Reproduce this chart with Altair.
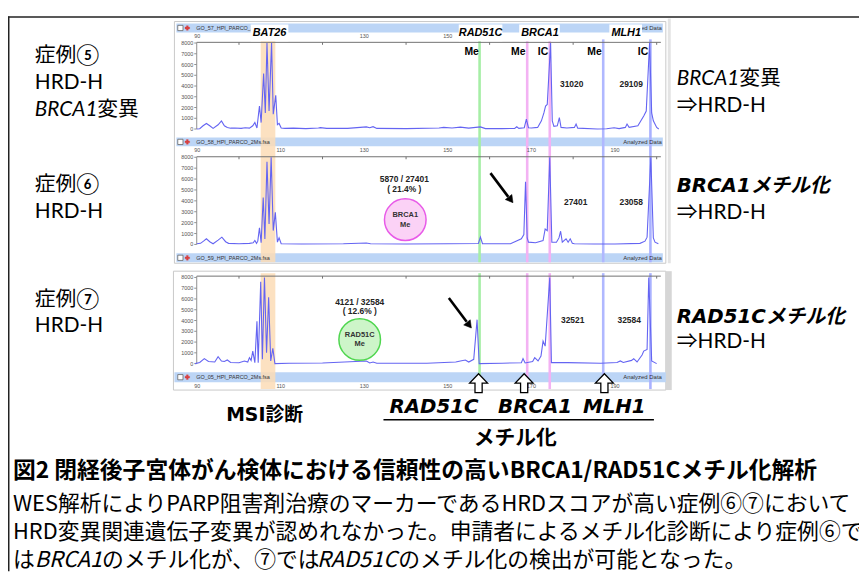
import altair as alt
import pandas as pd

# ---------------- data (bp, RFU) ----------------
case5_trace = [(89.9,0),(90.6,30),(91.4,300),(92.2,520),(93.0,300),(93.8,60),(95.0,395),(95.8,760),(96.5,300),
    (97.2,150),(98.0,80),(99.0,100),(100.5,60),(101.5,120),(102.5,80),(103.3,300),(103.8,610),(104.3,100),
    (104.9,2130),(105.3,600),(105.9,5170),(106.3,1500),(106.7,8000),(107.2,1670),(107.8,8000),(108.2,1370),
    (108.8,3130),(109.2,400),(109.6,520),(110.1,100),(111.0,60),(113.0,80),(116.0,40),(119.0,100),(119.5,130),
    (121.0,60),(126.0,60),(129.0,150),(130.5,200),(131.3,120),(132.1,220),(133.0,60),(140.0,40),(147.9,100),
    (149.0,150),(151.0,100),(153.0,180),(155.0,80),(157.8,200),(159.0,40),(163.0,40),(166.0,60),(166.5,210),
    (167.0,60),(168.3,120),(168.8,910),(169.3,120),(170.0,100),(171.5,150),(172.4,760),(173.0,1500),(173.4,2130),
    (173.8,2280),(174.6,8000),(175.0,760),(175.4,250),(176.2,300),(176.7,1060),(177.1,150),(178.5,100),(180.3,150),
    (180.7,460),(181.1,80),(185.8,0),(188.0,30),(189.8,120),(191.0,40),(192.5,150),(192.9,460),(193.4,150),
    (195.5,300),(196.9,1220),(197.5,1670),(198.3,8000),(198.8,1500),(199.2,760),(200.0,150),(200.5,0)]

case6_trace = [(89.9,60),(90.8,100),(91.5,300),(92.2,515),(93.0,250),(93.8,60),(95.0,400),(95.9,670),(96.8,250),
    (97.5,100),(100.0,60),(102.5,100),(103.4,150),(103.8,360),(104.2,100),(104.5,300),(104.9,1515),(105.3,150),
    (105.8,4300),(106.2,500),(106.7,7575),(107.2,1880),(107.7,8000),(108.2,1270),(108.7,2940),(109.2,210),
    (109.6,600),(110.1,60),(115.0,40),(125.0,60),(130.5,130),(131.5,60),(140.0,40),(150.0,60),(157.3,80),
    (157.8,670),(158.3,60),(165.0,60),(167.6,515),(168.2,900),(168.6,5760),(169.0,600),(169.3,210),(171.0,150),
    (172.8,360),(173.3,1420),(173.8,1270),(174.4,8000),(174.9,210),(176.0,200),(176.6,600),(177.0,1210),
    (177.4,210),(178.3,515),(178.8,200),(179.3,515),(179.8,100),(180.3,60),(185.0,40),(190.0,40),(196.0,100),
    (197.2,300),(197.7,670),(198.6,8000),(199.2,600),(199.6,210),(200.4,60)]

case7_trace = [(89.5,0),(90.6,100),(91.7,460),(92.7,200),(94.2,150),(95.0,644),(95.8,245),(96.5,200),(97.2,337),
    (98.0,100),(100.0,80),(101.3,245),(102.1,150),(102.5,552),(102.9,300),(103.3,1165),(103.8,92),(104.3,3920),
    (104.6,92),(105.2,7600),(105.6,400),(106.1,8000),(106.6,1010),(107.1,6160),(107.6,245),(108.1,1410),
    (108.6,0),(112.0,40),(120.0,60),(130.5,245),(131.3,60),(132.1,153),(133.0,40),(145.0,40),(151.9,153),
    (153.0,245),(154.2,337),(155.0,150),(156.2,400),(157.0,4080),(157.5,0),(163.0,40),(167.6,80),(168.0,460),
    (168.5,60),(170.3,200),(170.8,552),(171.6,245),(172.3,700),(172.8,2085),(173.3,1620),(174.4,8000),
    (174.8,92),(178.7,92),(186.6,31),(190.5,100),(191.3,245),(192.0,100),(194.0,300),(194.5,460),(195.3,153),
    (196.5,800),(196.9,1165),(197.7,1320),(198.1,8000),(198.8,245),(200.0,0)]

# marker windows (bp)
bat26_range = [105.2, 108.7]
marker_names = ["RAD51C Me", "BRCA1 Me", "BRCA1 IC", "MLH1 Me", "MLH1 IC"]
marker_bp = [157.6, 169.0, 174.4, 187.2, 198.5]
marker_colors = ["#a6eea6", "#f3b2f3", "#f3b2f3", "#b0b8ff", "#a9b1ff"]

# axes
y_ticks = [0, 1000, 2000, 3000, 4000, 5000, 6000, 7000, 8000]
x_label_ticks = [90, 110, 130, 150, 170, 190]
x_label_ticks_top = [90, 130, 150]          # the others are hidden under the gene labels
x_minor_ticks = [100, 120, 140, 160, 180, 200]

# annotation values
case5_peaks = ["31020", "29109"]
case6_peaks = ["27401", "23058"]
case7_peaks = ["32521", "32584"]
case6_ratio = ["5870 / 27401", "( 21.4% )"]
case7_ratio = ["4121 / 32584", "( 12.6% )"]
file_names = ["GO_57_HPI_PARCO_2Ms.fsa", "GO_58_HPI_PARCO_2Ms.fsa", "GO_59_HPI_PARCO_2Ms.fsa", "GO_05_HPI_PARCO_2Ms.fsa"]

title = "図2 閉経後子宮体がん検体における信頼性の高いBRCA1/RAD51Cメチル化解析"
body2 = "WES解析によりPARP阻害剤治療のマーカーであるHRDスコアが高い症例⑥⑦において"
body3 = "HRD変異関連遺伝子変異が認めれなかった。申請者によるメチル化診断により症例⑥で"
body4 = ["は", "BRCA1", "のメチル化が、⑦では", "RAD51C", "のメチル化の検出が可能となった。"]

# ---------------- layout helpers ----------------
W, H = 859, 566
OX, OY = 8, 8
LATO = "Lato, 'Noto Sans CJK JP', sans-serif"
DEJA = "'DejaVu Sans', 'Noto Sans CJK JP', sans-serif"
ARIAL = "'Liberation Sans', Arial, sans-serif"
CJK = "'Noto Sans CJK JP', sans-serif"

CX = alt.Scale(domain=[OX, OX + W], range=[0, W], nice=False, zero=False)
CY = alt.Scale(domain=[OY, OY + H], range=[0, H], nice=False, zero=False)


def cx(f="x"):
    return alt.X(f + ":Q", scale=CX, axis=None)


def cy(f="y"):
    return alt.Y(f + ":Q", scale=CY, axis=None)


def texts(rows, size, font, weight="normal", style="normal", color="#000", align="left"):
    df = pd.DataFrame(rows, columns=["t", "x", "y"])
    return alt.Chart(df).mark_text(font=font, fontSize=size, fontWeight=weight, fontStyle=style,
                                   color=color, align=align, baseline="middle").encode(
        x=cx(), y=cy(), text="t:N")


def rects(rows, fill, stroke=None, sw=1.0):
    df = pd.DataFrame(rows, columns=["x", "x2", "y", "y2"])
    kw = dict(fill=fill, opacity=1)
    if stroke:
        kw.update(stroke=stroke, strokeWidth=sw)
    return alt.Chart(df).mark_rect(**kw).encode(x=cx("x"), x2="x2:Q", y=cy("y"), y2="y2:Q")


def rules(rows, color, sw):
    df = pd.DataFrame(rows, columns=["x", "y", "x2", "y2"])
    return alt.Chart(df).mark_rule(color=color, strokeWidth=sw).encode(
        x=cx("x"), y=cy("y"), x2="x2:Q", y2="y2:Q")


def symbols(rows, shape, size, fill, stroke, sw, angle=0):
    df = pd.DataFrame(rows, columns=["x", "y"])
    return alt.Chart(df).mark_point(shape=shape, size=size, filled=True, fill=fill, stroke=stroke,
                                    strokeWidth=sw, angle=angle, opacity=1).encode(x=cx(), y=cy())


XS = alt.Scale(domain=[90, 201], range=[199 - OX, 667 - OX], nice=False, zero=False)


def panel(trace, zero_px, top_px, axis_px, label_px, labels, band_span=None):
    YS = alt.Scale(domain=[0, 8000], range=[zero_px - OY, top_px - OY], nice=False, zero=False)

    def X(f):
        return alt.X(f + ":Q", scale=XS, axis=None)

    def Y(f):
        return alt.Y(f + ":Q", scale=YS, axis=None)

    one = pd.DataFrame({"a": [0]})
    layers = []
    if band_span:
        ya, yb = band_span
        bat = pd.DataFrame({"lo": [bat26_range[0]], "hi": [bat26_range[1]]})
        layers.append(alt.Chart(bat).mark_rect(color="#fcdcb6", opacity=0.85).encode(
            x=X("lo"), x2="hi:Q", y=alt.value(ya - OY), y2=alt.value(yb - OY)))
        mk = pd.DataFrame({"bp": marker_bp, "c": marker_colors, "n": marker_names})
        layers.append(alt.Chart(mk).mark_rule(strokeWidth=2.6).encode(
            x=X("bp"), y=alt.value(ya - OY), y2=alt.value(yb - OY), color=alt.Color("c:N", scale=None)))
    # plot frame: top line with ticks, left axis
    layers.append(alt.Chart(one).mark_rule(color="#707070", strokeWidth=1).encode(
        x=alt.value(198.5 - OX), x2=alt.value(667 - OX), y=alt.value(axis_px - OY)))
    layers.append(alt.Chart(pd.DataFrame({"v": [0]})).mark_rule(color="#909090", strokeWidth=1).encode(
        x=alt.value(198.5 - OX), y=Y("v"), y2=alt.value(axis_px - OY)))
    yt = pd.DataFrame({"v": y_ticks})
    layers.append(alt.Chart(yt).mark_rule(color="#909090", strokeWidth=1).encode(
        x=alt.value(196 - OX), x2=alt.value(198.5 - OX), y=Y("v")))
    layers.append(alt.Chart(yt).mark_text(font=ARIAL, fontSize=5.5, color="#555", align="right",
                                          baseline="middle").encode(
        x=alt.value(195 - OX), y=Y("v"), text="v:Q"))
    xt = pd.DataFrame({"v": labels})
    layers.append(alt.Chart(xt).mark_text(font=ARIAL, fontSize=5.5, color="#555", baseline="middle").encode(
        x=X("v"), y=alt.value(label_px - OY), text="v:Q"))
    xm = pd.DataFrame({"v": x_minor_ticks})
    layers.append(alt.Chart(xm).mark_rule(color="#707070", strokeWidth=1).encode(
        x=X("v"), y=alt.value(axis_px - OY), y2=alt.value(axis_px - OY + 2.5)))
    df = pd.DataFrame(trace, columns=["bp", "rfu"])
    layers.append(alt.Chart(df).mark_line(color="#6464f2", strokeWidth=1.1).encode(
        x=X("bp"), y=Y("rfu"), order="bp:Q"))
    return alt.layer(*layers)


# ---------------- background canvas ----------------
ARROW = "M0,-1L0.95,0L0.38,0L0.38,1L-0.38,1L-0.38,0L-0.95,0Z"
bar_y = [25.5, 140.5, 257.5, 378]

bg = alt.layer(
    rects([(176, 672, 19, 263), (175, 672, 271, 391)], "white", "#c8c8c8", 1),
    rects([(672, 678, 271, 391)], "#d6d6d6"),
    rects([(674, 677, 16, 263)], "#e4e4e4"),
    rects([(178, 669, 21, 30), (178, 669, 136, 145), (178, 669, 253, 262), (176, 672, 373, 383)], "#bcd5f6"),
    rules([(8, 14.5, 867, 14.5), (8.75, 14, 8.75, 574)], "#222", 1.5),
)

p1 = panel(case5_trace, 127.5, 40.7, 40, 33.5, x_label_ticks_top, band_span=(37, 262))
p2 = panel(case6_trace, 244, 156, 155.5, 148.5, x_label_ticks)
p3 = panel(case7_trace, 364.3, 277.3, 276, 386.5, x_label_ticks, band_span=(273, 390))

fg = alt.layer(
    # bar contents
    symbols([(182, y) for y in bar_y], "square", 28, "white", "#666", 0.8),
    symbols([(189, y) for y in bar_y], "cross", 22, "#d84040", "#d84040", 0.3),
    texts([(file_names[i], 198, bar_y[i]) for i in range(4)], 5.5, ARIAL, color="#333"),
    texts([("Analyzed Data", 668, y) for y in bar_y], 6, ARIAL, color="#333", align="right"),
    # gene label boxes
    rects([(253, 291, 22, 39), (463, 507, 22, 39), (524, 565, 22, 39), (615, 648, 22, 39)], "white"),
    texts([("BAT26", 272, 31), ("RAD51C", 485, 31), ("BRCA1", 545, 31), ("MLH1", 632, 31)],
          11, ARIAL, "bold", "italic", align="center"),
    texts([("Me", 476, 50), ("Me", 523, 50), ("IC", 548, 50), ("Me", 600, 50), ("IC", 649, 50)],
          10.5, ARIAL, "bold", align="center"),
    texts([(case5_peaks[0], 577, 82), (case5_peaks[1], 637, 82), (case6_peaks[0], 581, 201),
           (case6_peaks[1], 637, 201), (case7_peaks[0], 578, 320), (case7_peaks[1], 635, 320)],
          8.5, ARIAL, "bold", color="#222", align="center"),
    texts([(case6_ratio[0], 408, 178), (case6_ratio[1], 408, 188), (case7_ratio[0], 363, 302),
           (case7_ratio[1], 363, 311)], 8.5, ARIAL, "bold", color="#222", align="center"),
    symbols([(409, 219)], "circle", 1764, "#fbd2f6", "#e85ae8", 1.5),
    symbols([(363, 340)], "circle", 1764, "#cdf5c9", "#4fd64f", 1.5),
    texts([("BRCA1", 409, 214), ("Me", 409, 224), ("RAD51C", 363, 335), ("Me", 363, 345)],
          7.5, ARIAL, "bold", color="#333", align="center"),
    # black pointer arrows
    rules([(495, 172, 513, 196), (453, 298, 471, 322)], "black", 2.6),
    symbols([(515.5, 199), (473.5, 325.5)], "triangle-up", 70, "black", "black", 0.5, angle=142),
    # open up-arrows
    symbols([(483, 384), (529, 384), (610, 384)], ARROW, 361, "white", "black", 1.3),
    # left labels
    texts([("症例⑤", 35, 54), ("HRD-H", 35, 81), ("症例⑥", 35, 184), ("HRD-H", 35, 211),
           ("症例⑦", 35, 300), ("HRD-H", 35, 326)], 21, LATO),
    texts([("BRCA1", 35, 108)], 21, LATO, style="italic"),
    texts([("変異", 98, 108)], 21, LATO),
    # right labels
    texts([("BRCA1", 683, 77)], 21, LATO, style="italic"),
    texts([("変異", 746, 77)], 21, LATO),
    texts([("⇒HRD-H", 683, 104), ("⇒HRD-H", 683, 212), ("⇒HRD-H", 683, 343)], 21, LATO),
    texts([("BRCA1メチル化", 683, 185), ("RAD51Cメチル化", 683, 317)], 20, DEJA, "bold", "italic"),
    # bottom labels
    texts([("MSI診断", 267, 416)], 19, DEJA, "bold", align="center"),
    texts([("RAD51C", 438, 408), ("BRCA1", 540, 408), ("MLH1", 620, 408)], 20, DEJA, "bold", "italic",
          align="center"),
    rules([(387, 421, 660, 421)], "black", 1.5),
    texts([("メチル化", 520, 440)], 21, CJK, "bold", align="center"),
    # caption
    texts([(title, 13, 473)], 23, CJK, "bold"),
    texts([(body2, 13, 506), (body3, 13, 534)], 22, CJK),
    texts([(body4[0], 13, 563), (body4[2], 103, 563), (body4[4], 402, 563)], 22, CJK),
    texts([(body4[1], 35, 563), (body4[3], 320, 563)], 22, CJK, style="italic"),
)

chart = alt.layer(bg, p1, p2, p3, fg).resolve_scale(x="independent", y="independent").properties(
    width=W, height=H, padding=0, autosize=alt.AutoSizeParams(type="none"), background="white"
).configure_view(stroke=None)

chart.save("out.html", embed_options={"renderer": "svg", "actions": False})
